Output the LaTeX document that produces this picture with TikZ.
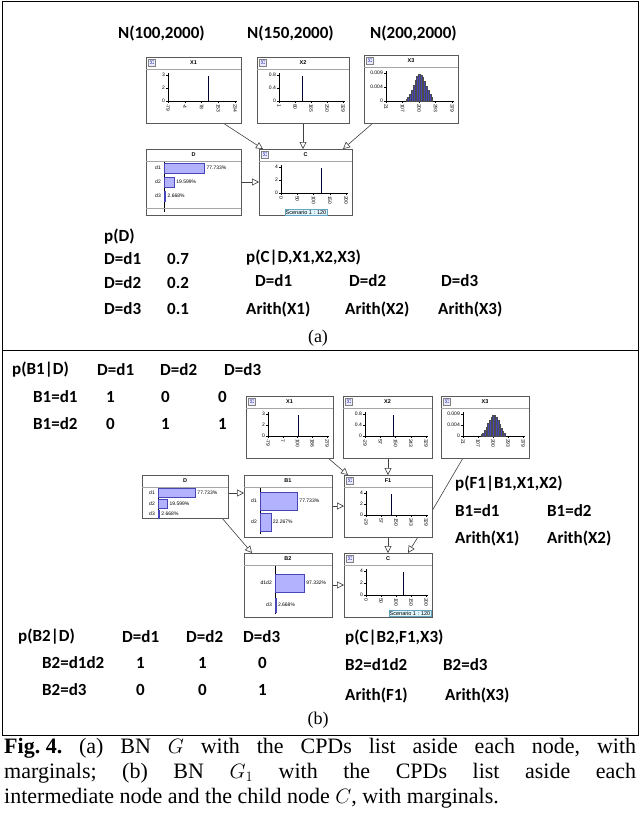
\documentclass[tikz,border=0pt]{standalone}
\usepackage{fontspec}
\setmainfont{Liberation Serif}
\newfontfamily\lab{Carlito}
\newfontfamily\ui{Liberation Sans}
\usetikzlibrary{arrows.meta,calc}
\tikzset{
 bnb/.style={draw=gray!70!black,fill=white,anchor=north west,inner sep=0pt,line width=0.6pt},
 ttl/.style={font=\ui\bfseries\fontsize{5.5}{6}\selectfont},
 tk/.style={font=\ui\fontsize{5}{6}\selectfont,inner sep=1pt},
 sig/.style={draw=gray,fill=blue!8,minimum size=7pt,inner sep=0pt,font=\tiny,text=blue!60!black},
 lb/.style={font=\lab\bfseries\fontsize{17}{18}\selectfont,anchor=west,inner sep=0pt},
 ed/.style={draw=gray!50!black,line width=0.6pt,-{Triangle[open,length=7pt,width=7pt]}},
 scen/.style={draw=cyan!50!gray,fill=cyan!12,font=\ui\fontsize{5.5}{6}\selectfont,inner sep=1pt}
}
% name x y w h title yticks xticks spike
\newcommand\cbox[9]{%
 \node[bnb,minimum width=#4pt,minimum height=#5pt] (#1) at (#2,#3) {};
 \draw[gray!70] ({#2},{#3+12}) -- ({#2+#4},{#3+12});
 \node[ttl] at ({#2+#4/2},{#3+6}) {#6};
 \node[sig] at ({#2+6},{#3+6}) {$\Sigma$};
 \draw ({#2+22},{#3+16}) -- ({#2+22},{#3+#5-22}) -- ({#2+#4-4},{#3+#5-22});
 \foreach \v/\f in {#7} {\draw ({#2+20},{#3+#5-22-\f*(#5-40)}) -- ++(2,0);
   \node[tk,anchor=east] at ({#2+20},{#3+#5-22-\f*(#5-40)}) {\v};}
 \foreach \v/\f in {#8} {\draw ({#2+22+\f*(#4-28)},{#3+#5-22}) -- ++(0,2);
   \node[tk,rotate=-90,anchor=west] at ({#2+22+\f*(#4-28)},{#3+#5-20}) {\v};}
 \if\relax\detokenize{#9}\relax\else
 \draw[line width=0.9pt,black!80!blue] ({#2+22+#9*(#4-28)},{#3+#5-22}) -- ++(0,{-(#5-40)*0.95});\fi
}
% name x y w h title axisoff barmax rows
\newcommand\bbox[9]{%
 \node[bnb,minimum width=#4pt,minimum height=#5pt] (#1) at (#2,#3) {};
 \draw[gray!70] ({#2},{#3+12}) -- ({#2+#4},{#3+12});
 \node[ttl] at ({#2+#4/2},{#3+6}) {#6};
 \draw ({#2+#7},{#3+13}) -- ({#2+#7},{#3+#5-3});
 \foreach \l/\f/\p/\yy/\bh in {#9} {
   \node[tk,anchor=east] at ({#2+#7-2},{#3+\yy}) {\l};
   \draw[blue!45!gray,fill=blue!30] ({#2+#7},{#3+\yy-\bh/2}) rectangle ({#2+#7+\f*#8},{#3+\yy+\bh/2});
   \node[tk,anchor=west] at ({#2+#7+\f*#8+1},{#3+\yy}) {\p};}
}
\newcommand\histo[4]{% x y w h
 \foreach \i in {0,...,14} {
  \pgfmathsetmacro\ff{0.30+\i*0.027}
  \pgfmathsetmacro\hh{(#4-40)*0.95*exp(-((\ff-0.5)/0.09)^2/2)}
  \draw[black!70,fill=blue!45!gray] ({#1+22+\ff*(#3-28)},{#2+#4-22}) rectangle ++({0.027*(#3-28)},{-\hh});}
}
\begin{document}
\begin{tikzpicture}[x=1pt,y=-1pt]
\useasboundingbox (0,0) rectangle (640,820);
\draw[line width=0.8pt] (2,1) rectangle (638,350);
\draw[line width=0.8pt] (2,350) rectangle (638,735);
% ---------- panel a
\node[lb] at (118,33) {N(100,2000)};
\node[lb] at (247,33) {N(150,2000)};
\node[lb] at (370,33) {N(200,2000)};
\path[ed] (223,123) -- (263,149);
\path[ed] (303,123) -- (303,149);
\path[ed] (373,123) -- (343,149);
\path[ed] (241,182) -- (259,182);
\cbox{X1}{146}{57}{95}{66}{X1}{3/1,2/0.5,0/0}{-79/0,-4/0.25,78/0.5,153/0.75,234/1}{0.6}
\cbox{X2}{257}{57}{92}{66}{X2}{0.8/1,0.4/0.5,0/0}{1/0,80/0.25,165/0.5,250/0.75,329/1}{0.37}
\cbox{X3}{364}{55}{94}{68}{X3}{0.009/1,0.004/0.5,0/0}{21/0,107/0.25,200/0.5,293/0.75,379/1}{}
\histo{364}{55}{94}{68}
\bbox{D}{146}{149}{95}{66}{D}{18}{52}{d1/0.777/77.733\%/19/10,d2/0.196/19.599\%/33/10,d3/0.027/2.668\%/47/10}
\draw[gray!70] (146,208) -- (241,208);
\cbox{C}{259}{149}{93}{66}{C}{4/1,2/0.5,0/0}{0/0,50/0.25,100/0.5,150/0.75,200/1}{0.62}
\node[scen,anchor=north] (s1) at (306,209) {Scenario 1 : 120};
\node[lb] at (104,237) {p(D)};
\node[lb] at (104,259) {D=d1};\node[lb] at (167,259) {0.7};
\node[lb] at (104,283) {D=d2};\node[lb] at (167,283) {0.2};
\node[lb] at (104,309) {D=d3};\node[lb] at (167,309) {0.1};
\node[lb] at (246,258) {p(C|D,X1,X2,X3)};
\node[lb] at (255,281) {D=d1};\node[lb] at (349,281) {D=d2};\node[lb] at (441,281) {D=d3};
\node[lb] at (246,309) {Arith(X1)};\node[lb] at (345,309) {Arith(X2)};\node[lb] at (438,309) {Arith(X3)};
\node[font=\fontsize{18}{20}\selectfont] (la) at (318,338) {(a)};
% ---------- panel b
\node[lb] at (12,370) {p(B1|D)};
\node[lb] at (97,370) {D=d1};\node[lb] at (160,370) {D=d2};\node[lb] at (224,370) {D=d3};
\node[lb] at (33,397) {B1=d1};\node[lb] at (106,397) {1};\node[lb] at (161,397) {0};\node[lb] at (218,397) {0};
\node[lb] at (33,424) {B1=d2};\node[lb] at (106,424) {0};\node[lb] at (161,424) {1};\node[lb] at (218,424) {1};
\path[ed] (328,458) -- (348,475);
\path[ed] (388,458) -- (388,475);
\draw[gray!50!black,line width=0.6pt] (463,458) -- (432,511);
\path[ed] (418,537) -- (408,553);
\path[ed] (228,493) -- (244,493);
\path[ed] (332,506) -- (344,506);
\path[ed] (222,518) -- (252,553);
\path[ed] (332,585) -- (344,585);
\path[ed] (388,537) -- (388,553);
\cbox{X1b}{246}{396}{87}{62}{X1}{3/1,2/0.5,0/0}{-79/0,7/0.25,100/0.5,186/0.75,279/1}{0.52}
\cbox{X2b}{343}{396}{89}{62}{X2}{0.8/1,0.4/0.5,0/0}{-29/0,57/0.25,150/0.5,243/0.75,329/1}{0.47}
\cbox{X3b}{441}{396}{88}{62}{X3}{0.009/1,0.004/0.5,0/0}{21/0,107/0.25,200/0.5,293/0.75,379/1}{}
\histo{441}{396}{88}{62}
\bbox{Db}{142}{475}{86}{43}{D}{16}{48}{d1/0.777/77.733\%/18/9,d2/0.196/19.599\%/29/9,d3/0.027/2.668\%/39/8}
\bbox{B1}{244}{475}{88}{62}{B1}{16}{48}{d1/0.777/77.733\%/26/18,d2/0.223/22.267\%/47/18}
\cbox{F1}{344}{475}{88}{62}{F1}{4/1,2/0.5,0/0}{-29/0,57/0.25,150/0.5,243/0.75,329/1}{0.42}
\bbox{B2}{244}{553}{88}{64}{B2}{31}{30}{d1d2/0.973/97.332\%/30/18,d3/0.027/2.668\%/52/14}
\cbox{Cb}{344}{553}{88}{64}{C}{4/1,2/0.5,0/0}{0/0,50/0.25,100/0.5,150/0.75,200/1}{0.62}
\node[scen,anchor=north] (s2) at (410,610) {Scenario 1 : 120};
\node[lb] at (455,484) {p(F1|B1,X1,X2)};
\node[lb] at (455,511) {B1=d1};\node[lb] at (547,511) {B1=d2};
\node[lb] at (455,538) {Arith(X1)};\node[lb] at (547,538) {Arith(X2)};
\node[lb] at (18,637) {p(B2|D)};
\node[lb] at (122,637) {D=d1};\node[lb] at (186,637) {D=d2};\node[lb] at (243,637) {D=d3};
\node[lb] at (42,663) {B2=d1d2};\node[lb] at (136,663) {1};\node[lb] at (198,663) {1};\node[lb] at (258,663) {0};
\node[lb] at (42,690) {B2=d3};\node[lb] at (136,690) {0};\node[lb] at (198,690) {0};\node[lb] at (258,690) {1};
\node[lb] at (345,638) {p(C|B2,F1,X3)};
\node[lb] at (345,665) {B2=d1d2};\node[lb] at (443,665) {B2=d3};
\node[lb] at (345,695) {Arith(F1)};\node[lb] at (445,695) {Arith(X3)};
\node[font=\fontsize{18}{20}\selectfont] (lbb) at (318,720) {(b)};
% ---------- caption
\begin{scope}[every node/.style={anchor=west,inner sep=0pt,font=\fontsize{22}{24}\selectfont}]
\node (cap1) at (4,748) {\hbox to 632pt{\textbf{Fig.\ 4.}\hfill(a)\hfill BN\hfill $G$\hfill with\hfill the\hfill CPDs\hfill list\hfill aside\hfill each\hfill node,\hfill with}};
\node (cap2) at (4,773) {\hbox to 632pt{marginals;\hfill(b)\hfill BN\hfill $G_1$\hfill with\hfill the\hfill CPDs\hfill list\hfill aside\hfill each}};
\node (cap3) at (4,798) {intermediate node and the child node $C$, with marginals.};
\end{scope}
\end{tikzpicture}
\end{document}
